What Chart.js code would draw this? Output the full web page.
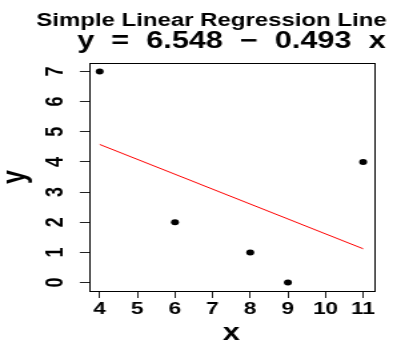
<!DOCTYPE html>
<html>
<head>
<meta charset="utf-8">
<script src="https://cdn.jsdelivr.net/npm/chart.js@4.4.0/dist/chart.umd.min.js"></script>
<style>
  html, body { margin: 0; padding: 0; background: #fff; }
  canvas { display: block; }
</style>
</head>
<body>
<!-- drawn narrow and stretched sideways, like the reference -->
<canvas id="myChart" width="301" height="343" style="width:401px;height:343px"></canvas>
<script>
const xValues = [4, 6, 8, 9, 11];
const yValues = [7, 2, 1, 0, 4];
const fitX = [4, 11];
const fitY = [4.58, 1.12];
const xTicks = [4, 5, 6, 7, 8, 9, 10, 11];
const yTicks = [0, 1, 2, 3, 4, 5, 6, 7];
const mainTitle = 'Simple Linear Regression Line';
const subTitle = 'y  =  6.548  \u2212  0.493  x';

const family = "'Liberation Sans', Arial, Helvetica, sans-serif";
Chart.defaults.font.family = family;
Chart.defaults.color = '#000';

// box round the plot and the two title lines
const boxAndTitles = {
    id: 'boxAndTitles',
    afterDraw(chart) {
        const ctx = chart.ctx;
        const a = chart.chartArea;
        ctx.save();
        ctx.strokeStyle = '#000';
        ctx.lineWidth = 1;
        ctx.strokeRect(Math.round(a.left) + 0.5, Math.round(a.top) + 0.5,
            Math.round(a.right - a.left), Math.round(a.bottom - a.top));
        ctx.fillStyle = '#000';
        ctx.textAlign = 'center';
        ctx.textBaseline = 'alphabetic';
        const mid = (a.left + a.right) / 2;
        ctx.font = 'bold 18px ' + family;
        ctx.fillText(mainTitle, mid - 15, 26);
        ctx.font = 'bold 23px ' + family;
        ctx.fillText(subTitle, mid, 48);
        ctx.restore();
    }
};

const ctx = document.getElementById('myChart').getContext('2d');
const myChart = new Chart(ctx, {
    data: {
        datasets: [{
            type: 'scatter',
            data: xValues.map((x, i) => ({ x: x, y: yValues[i] })),
            backgroundColor: '#000',
            borderWidth: 0,
            pointRadius: 3
        }, {
            type: 'line',
            data: fitX.map((x, i) => ({ x: x, y: fitY[i] })),
            borderColor: '#ff0000',
            borderWidth: 1,
            pointRadius: 0,
            fill: false
        }]
    },
    options: {
        responsive: false,
        animation: false,
        events: [],
        layout: { padding: { top: 63, right: 20.5, left: 0, bottom: 0 } },
        plugins: {
            legend: { display: false },
            tooltip: { enabled: false }
        },
        scales: {
            x: {
                type: 'linear',
                min: 3.72,
                max: 11.28,
                afterBuildTicks: s => { s.ticks = xTicks.map(v => ({ value: v })); },
                afterFit: s => { s.height = 52; },
                border: { display: false },
                grid: { drawOnChartArea: false, tickLength: 7, color: '#222' },
                ticks: {
                    autoSkip: false,
                    maxRotation: 0,
                    padding: 1,
                    font: { size: 17, weight: 'bold' }
                },
                title: {
                    display: true,
                    text: 'x',
                    padding: { top: 0, bottom: -2.5 },
                    font: { size: 23, weight: 'bold', lineHeight: 1 }
                }
            },
            y: {
                type: 'linear',
                min: -0.28,
                max: 7.28,
                afterBuildTicks: s => { s.ticks = yTicks.map(v => ({ value: v })); },
                afterFit: s => { s.width = 66.9; },
                border: { display: false },
                grid: { drawOnChartArea: false, tickLength: 7, color: '#222' },
                ticks: {
                    minRotation: 90,
                    maxRotation: 90,
                    crossAlign: 'center',
                    padding: 12.5,
                    font: { size: 18, weight: 'bold' }
                },
                title: {
                    display: true,
                    text: 'y',
                    padding: { top: 0, bottom: 0 },
                    font: { size: 25, weight: 'bold', lineHeight: 1 }
                }
            }
        }
    },
    plugins: [boxAndTitles]
});
</script>
</body>
</html>
